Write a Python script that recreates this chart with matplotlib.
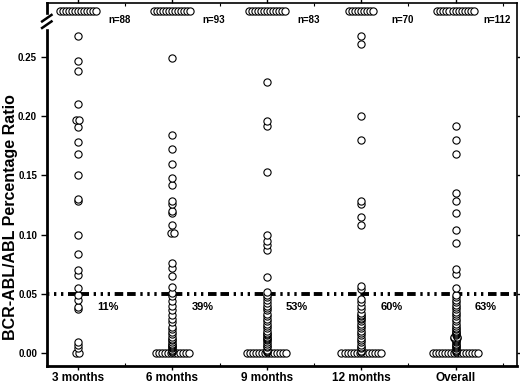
import numpy as np
import matplotlib
matplotlib.use('Agg')
import matplotlib.pyplot as plt

plt.rcParams['font.family'] = ['Liberation Sans', 'DejaVu Sans']

categories = ['3 months', '6 months', '9 months', '12 months', 'Overall']
n_labels = ['n=88', 'n=93', 'n=83', 'n=70', 'n=112']
pct_labels = ['11%', '39%', '53%', '60%', '63%']

# circles drawn in the top row, above the axis break
above_break = [13, 13, 13, 9, 13]

# values, one list per time point
m3 = [0.268, 0.247, 0.238, 0.210, 0.197, 0.197, 0.191, 0.178, 0.168, 0.150,
      0.130, 0.128, 0.0995, 0.084, 0.070, 0.066, 0.055,
      0.049, 0.045, 0.039, 0.037, 0.009, 0.007, 0.004, 0.0, 0.0]
m6 = [0.249, 0.184, 0.172, 0.160, 0.148, 0.142, 0.128, 0.126, 0.120, 0.118,
      0.108, 0.101, 0.101, 0.076, 0.072, 0.065, 0.056, 0.051,
      0.048, 0.044, 0.040, 0.036, 0.032, 0.029, 0.026, 0.022, 0.020, 0.018,
      0.016, 0.014, 0.012, 0.011, 0.009, 0.008, 0.007, 0.006, 0.005, 0.004,
      0.003, 0.002, 0.001,
      0.0, 0.0, 0.0, 0.0, 0.0, 0.0, 0.0, 0.0, 0.0, 0.0, 0.0, 0.0]
m9 = [0.229, 0.196, 0.192, 0.153, 0.100, 0.095, 0.091, 0.087, 0.064, 0.052,
      0.049, 0.047, 0.045, 0.042, 0.040, 0.038, 0.036, 0.033, 0.031, 0.029,
      0.027, 0.025, 0.023, 0.021, 0.019, 0.017, 0.016, 0.015, 0.014, 0.013,
      0.012, 0.011, 0.009, 0.008, 0.006, 0.005, 0.003, 0.002, 0.0015, 0.001,
      0.0, 0.0, 0.0, 0.0, 0.0, 0.0, 0.0, 0.0, 0.0, 0.0, 0.0, 0.0, 0.0, 0.0]
m12 = [0.268, 0.261, 0.200, 0.180, 0.128, 0.126, 0.115, 0.108, 0.057, 0.054,
       0.046, 0.043, 0.040, 0.037, 0.034, 0.032, 0.031, 0.030, 0.029, 0.027,
       0.025, 0.023, 0.021, 0.019, 0.017, 0.015, 0.013, 0.011, 0.009, 0.007,
       0.005, 0.004, 0.002, 0.001,
       0.0, 0.0, 0.0, 0.0, 0.0, 0.0, 0.0, 0.0, 0.0, 0.0, 0.0, 0.0, 0.0, 0.0]
overall = [0.192, 0.180, 0.168, 0.135, 0.128, 0.118, 0.104, 0.093, 0.071, 0.067,
           0.055, 0.049, 0.047, 0.045, 0.043, 0.041, 0.039, 0.037, 0.035, 0.033,
           0.031, 0.029, 0.027, 0.025, 0.023, 0.021, 0.020, 0.019, 0.018, 0.017,
           0.016, 0.015, 0.014, 0.014, 0.013, 0.013, 0.012, 0.011, 0.010, 0.009,
           0.008, 0.007, 0.006, 0.005, 0.004, 0.003, 0.002, 0.001,
           0.0, 0.0, 0.0, 0.0, 0.0, 0.0, 0.0, 0.0, 0.0, 0.0, 0.0, 0.0, 0.0, 0.0,
           0.0, 0.0]
series = [m3, m6, m9, m12, overall]

TOP = 0.289        # y position of the "above break" row
THRESH = 0.05
SPREAD = 0.032     # sideways step for equal values

fig = plt.figure(figsize=(5.2, 3.84), dpi=100)
ax = fig.add_axes([0.090, 0.048, 0.904, 0.944])

marker_kw = dict(marker='o', linestyle='none', markersize=5.2,
                 markerfacecolor='white', markeredgecolor='black',
                 markeredgewidth=0.8)

for i, vals in enumerate(series):
    # spread equal values sideways, dot-plot style
    uniq, counts = np.unique(vals + [TOP] * above_break[i], return_counts=True)
    for v, c in zip(uniq, counts):
        xs = i + (np.arange(c) - (c - 1) / 2) * SPREAD
        ax.plot(xs, [v] * c, **marker_kw)
    ax.text(i + 0.44, 0.281, n_labels[i], ha='center', va='center',
            fontsize=7, fontweight='bold')
    ax.text(i + 0.32, 0.039, pct_labels[i], ha='center', va='center',
            fontsize=8, fontweight='bold')

ax.axhline(THRESH, color='black', linewidth=2.8,
           linestyle=(0, (0.6, 1.2, 0.6, 1.2, 0.6, 1.2, 2.2, 1.0, 2.2, 1.2)),
           zorder=1)

ax.set_xticks(range(len(categories)))
ax.set_xticklabels(categories, fontsize=8.5, fontweight='bold')
ax.set_xticks(np.arange(0.5, 4.6, 1.0), minor=True)
ax.set_yticks([0.0, 0.05, 0.10, 0.15, 0.20, 0.25])
ax.set_yticklabels(['0.00', '0.05', '0.10', '0.15', '0.20', '0.25'],
                   fontsize=7, fontweight='bold')
ax.set_xlim(-0.33, 4.65)
ax.set_ylim(-0.0105, 0.2955)
ax.tick_params(axis='x', which='major', length=3, width=1, top=True,
               direction='out', pad=1.5)
ax.tick_params(axis='x', which='minor', length=2, width=0.8, top=True,
               direction='in')
ax.tick_params(axis='y', which='major', length=4, width=1, right=True,
               direction='out', pad=3)
ax.set_ylabel('BCR-ABL/ABL Percentage Ratio', fontsize=11.5,
              fontweight='bold')
ax.yaxis.set_label_coords(-0.062, 0.41)

for side in ['left', 'bottom']:
    ax.spines[side].set_linewidth(2)
for side in ['top', 'right']:
    ax.spines[side].set_linewidth(1.2)

# axis break mark on the left spine
trans = ax.get_yaxis_transform()
ax.fill_between([-0.012, 0.012], 0.2745, 0.2855, color='white',
                transform=trans, clip_on=False, zorder=5)
for y0 in [0.2745, 0.2800]:
    ax.plot([-0.010, 0.010], [y0, y0 + 0.0055], color='black', linewidth=1.8,
            transform=trans, clip_on=False, zorder=6)

fig.savefig('out.png', dpi=100)
